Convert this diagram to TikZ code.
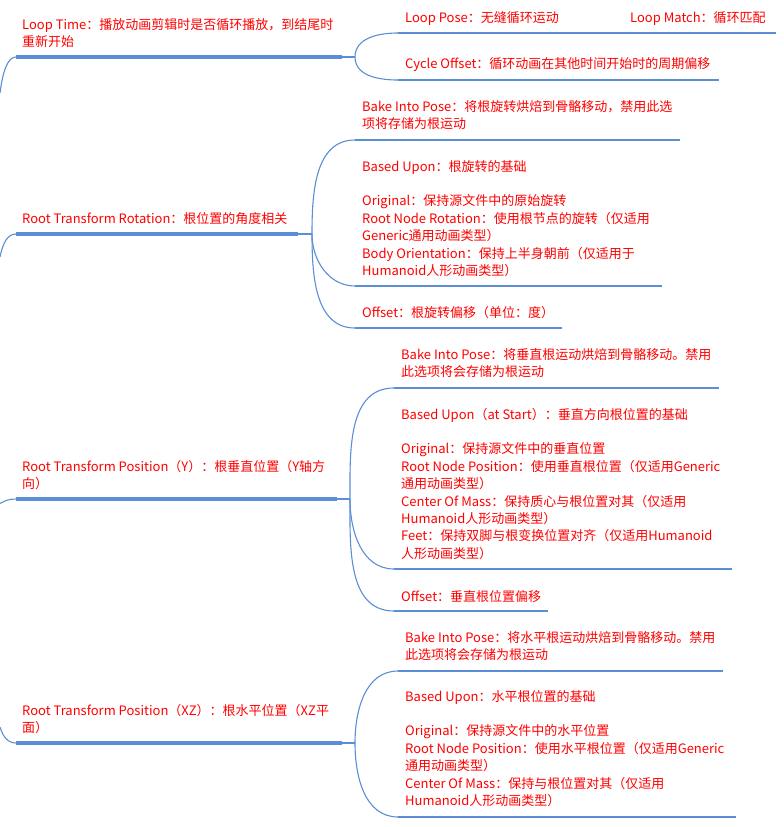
\documentclass[tikz,border=0pt]{standalone}
\usepackage{fontspec}
\setmainfont{Noto Sans CJK SC}
\definecolor{lineblue}{HTML}{5B8ED6}
\newcommand\mytxtfont{\fontsize{13}{17.4}\selectfont}
\tikzset{
  txt/.style={anchor=north west, inner sep=0pt, align=left, text=red, font=\mytxtfont},
  mainline/.style={draw=lineblue, line width=3.2pt},
  subline/.style={draw=lineblue, line width=2.8pt},
  link/.style={draw=lineblue, line width=1.1pt},
}
\begin{document}
\begin{tikzpicture}[x=1pt,y=-1pt]
\useasboundingbox (0,0) rectangle (784,827);

% ---------- Loop Time ----------
\coordinate (r1) at (0,93);
\coordinate (m1s) at (16,57); \coordinate (m1e) at (342,57); \coordinate (f1) at (355,57);
\node[txt] (t1) at (22,16.7) {\strut Loop Time：播放动画剪辑时是否循环播放，到结尾时\\重新开始};
\draw[mainline] (m1s) -- (m1e);
\draw[link] (r1) .. controls (3,70) and (8,57) .. (m1s);
\draw[link] (m1e) -- (f1);

\coordinate (c11s) at (398,33); \coordinate (c11e) at (567,33);
\coordinate (c12s) at (623,33); \coordinate (c12e) at (776,33);
\coordinate (c13s) at (398,80); \coordinate (c13e) at (719,80);
\node[txt] (t11) at (405,9.7) {\strut Loop Pose：无缝循环运动};
\node[txt] (t12) at (630,9.7) {\strut Loop Match：循环匹配};
\node[txt] (t13) at (405,55.7) {\strut Cycle Offset：循环动画在其他时间开始时的周期偏移};
\draw[subline] (c11s) -- (c11e);
\draw[subline] (c12s) -- (c12e);
\draw[subline] (c13s) -- (c13e);
\draw[link] (f1) to[out=90,in=180] (c11s);
\draw[link] (f1) to[out=-90,in=180] (c13s);
\draw[link] (c11e) -- (c12s);

% ---------- Root Transform Rotation ----------
\coordinate (r2) at (0,257);
\coordinate (m2s) at (16,234); \coordinate (m2e) at (298,234); \coordinate (f2) at (312,234);
\node[txt] (t2) at (22,210.7) {\strut Root Transform Rotation：根位置的角度相关};
\draw[mainline] (m2s) -- (m2e);
\draw[link] (r2) .. controls (3,242) and (8,234) .. (m2s);
\draw[link] (m2e) -- (f2);

\coordinate (c21s) at (355,140); \coordinate (c21e) at (680,140);
\coordinate (c22s) at (355,286); \coordinate (c22e) at (662,286);
\coordinate (c23s) at (355,328); \coordinate (c23e) at (562,328);
\node[txt] (t21) at (362,98.7) {\strut Bake Into Pose：将根旋转烘焙到骨骼移动，禁用此选\\项将存储为根运动};
\node[txt] (t22) at (362,158.7) {\strut Based Upon：根旋转的基础\\[17.4pt]Original：保持源文件中的原始旋转\\Root Node Rotation：使用根节点的旋转（仅适用\\Generic通用动画类型）\\Body Orientation：保持上半身朝前（仅适用于\\Humanoid人形动画类型）};
\node[txt] (t23) at (362,304.7) {\strut Offset：根旋转偏移（单位：度）};
\draw[subline] (c21s) -- (c21e);
\draw[subline] (c22s) -- (c22e);
\draw[subline] (c23s) -- (c23e);
\draw[link] (f2) to[out=90,in=180] (c21s);
\draw[link] (f2) to[out=-90,in=180] (c22s);
\draw[link] (f2) to[out=-90,in=180] (c23s);

% ---------- Root Transform Position (Y) ----------
\coordinate (r3) at (0,503.5);
\coordinate (m3s) at (16,499); \coordinate (m3e) at (337,499); \coordinate (f3) at (350,499);
\node[txt] (t3) at (22,459.2) {\strut Root Transform Position（Y）：根垂直位置（Y轴方\\向）};
\draw[mainline] (m3s) -- (m3e);
\draw[link] (r3) .. controls (5,500.5) and (9,499) .. (m3s);
\draw[link] (m3e) -- (f3);

\coordinate (c31s) at (394,388); \coordinate (c31e) at (719,388);
\coordinate (c32s) at (394,569); \coordinate (c32e) at (732,569);
\coordinate (c33s) at (394,611); \coordinate (c33e) at (548,611);
\node[txt] (t31) at (401,346.7) {\strut Bake Into Pose：将垂直根运动烘焙到骨骼移动。禁用\\此选项将会存储为根运动};
\node[txt] (t32) at (401,406.7) {\strut Based Upon（at Start）：垂直方向根位置的基础\\[17.4pt]Original：保持源文件中的垂直位置\\Root Node Position：使用垂直根位置（仅适用Generic\\通用动画类型）\\Center Of Mass：保持质心与根位置对其（仅适用\\Humanoid人形动画类型）\\Feet：保持双脚与根变换位置对齐（仅适用Humanoid\\人形动画类型）};
\node[txt] (t33) at (401,588.7) {\strut Offset：垂直根位置偏移};
\draw[subline] (c31s) -- (c31e);
\draw[subline] (c32s) -- (c32e);
\draw[subline] (c33s) -- (c33e);
\draw[link] (f3) to[out=90,in=180] (c31s);
\draw[link] (f3) to[out=-90,in=180] (c32s);
\draw[link] (f3) to[out=-90,in=180] (c33s);

% ---------- Root Transform Position (XZ) ----------
\coordinate (r4) at (0,727);
\coordinate (m4s) at (16,743); \coordinate (m4e) at (342,743); \coordinate (f4) at (355,743);
\node[txt] (t4) at (22,702.7) {\strut Root Transform Position（XZ）：根水平位置（XZ平\\面）};
\draw[mainline] (m4s) -- (m4e);
\draw[link] (r4) .. controls (3,737) and (8,743) .. (m4s);
\draw[link] (m4e) -- (f4);

\coordinate (c41s) at (398,671); \coordinate (c41e) at (723,671);
\coordinate (c42s) at (398,817); \coordinate (c42e) at (736,817);
\node[txt] (t41) at (405,629.7) {\strut Bake Into Pose：将水平根运动烘焙到骨骼移动。禁用\\此选项将会存储为根运动};
\node[txt] (t42) at (405,688.7) {\strut Based Upon：水平根位置的基础\\[17.4pt]Original：保持源文件中的水平位置\\Root Node Position：使用水平根位置（仅适用Generic\\通用动画类型）\\Center Of Mass：保持与根位置对其（仅适用\\Humanoid人形动画类型）};
\draw[subline] (c41s) -- (c41e);
\draw[subline] (c42s) -- (c42e);
\draw[link] (f4) to[out=90,in=180] (c41s);
\draw[link] (f4) to[out=-90,in=180] (c42s);
\end{tikzpicture}
\end{document}
